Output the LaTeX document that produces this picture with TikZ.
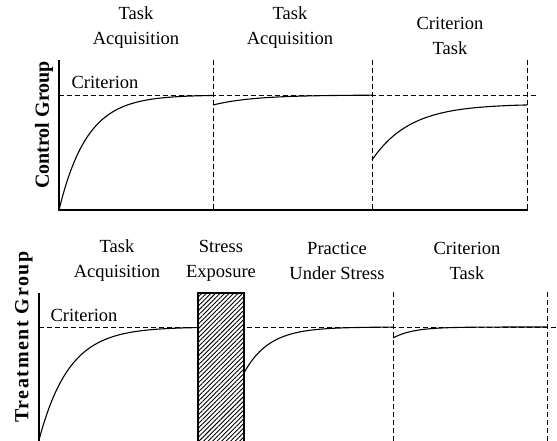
\documentclass[tikz,border=0pt]{standalone}
\usepackage{fontspec}
\setmainfont{Liberation Serif}
\usetikzlibrary{patterns.meta}
\tikzset{
    every node/.style={font=\fontsize{18.5}{25}\selectfont, align=center, inner sep=0pt},
    group label/.style={font=\fontsize{20}{24}\selectfont\bfseries, rotate=90},
    axis line/.style={line width=1.4pt},
    curve/.style={line width=1.1pt},
    crit line/.style={dash pattern=on 5pt off 3pt, line width=0.8pt},
    stress box/.style={draw, line width=1.2pt, fill=white,
        pattern={Lines[angle=45, distance=3.2pt, line width=0.9pt]}}
}

\begin{document}
\begin{tikzpicture}[x=1pt,y=-1pt]
    \useasboundingbox (0,0) rectangle (557,441);

    % control group
    \node[group label] (cg) at (44,125) {Control Group};
    \node (t1) at (136,28) {Task\\Acquisition};
    \node (t2) at (290,28) {Task\\Acquisition};
    \node (t3) at (450,36) {Criterion\\Task};
    \node (c1) at (105,82) {Criterion};

    \draw[crit line] (59,95) -- (538,95);
    \foreach \x in {213,372,527}
        \draw[crit line] (\x,60) -- (\x,210);
    \draw[axis line] (59,60) -- (59,210) -- (528,210);

    \draw[curve] plot[domain=59:213, samples=80] (\x, {95+115*exp(-(\x-59)/28)});
    \draw[curve] plot[domain=213:372, samples=60] (\x, {95+10*exp(-(\x-213)/40)});
    \draw[curve] plot[domain=372:527, samples=60] (\x, {104+56*exp(-(\x-372)/38)});

    % treatment group
    \node[group label, font=\fontsize{20}{24}\selectfont\bfseries\addfontfeature{LetterSpace=8}]
        (tg) at (24,337) {Treatment Group};
    \node (s1) at (117,261) {Task\\Acquisition};
    \node (s2) at (221,261) {Stress\\Exposure};
    \node (s3) at (337,261) {Practice\\Under Stress};
    \node (s4) at (467,261) {Criterion\\Task};
    \node (c2) at (84,315) {Criterion};

    \draw[crit line] (39,327) -- (556,327);
    \foreach \x in {393,547}
        \draw[crit line] (\x,292) -- (\x,441);
    \draw[axis line] (39,293) -- (39,441);

    \draw[curve] plot[domain=39:198, samples=80] (\x, {327+113*exp(-(\x-39)/30)});
    \draw[curve] plot[domain=244:393, samples=60] (\x, {327+46*exp(-(\x-244)/25)});
    \draw[curve] plot[domain=393:547, samples=60] (\x, {327+11*exp(-(\x-393)/20)});

    \fill[white] (198,293) rectangle (244,442);
    \draw[stress box] (198,293) rectangle (244,442);
\end{tikzpicture}
\end{document}
